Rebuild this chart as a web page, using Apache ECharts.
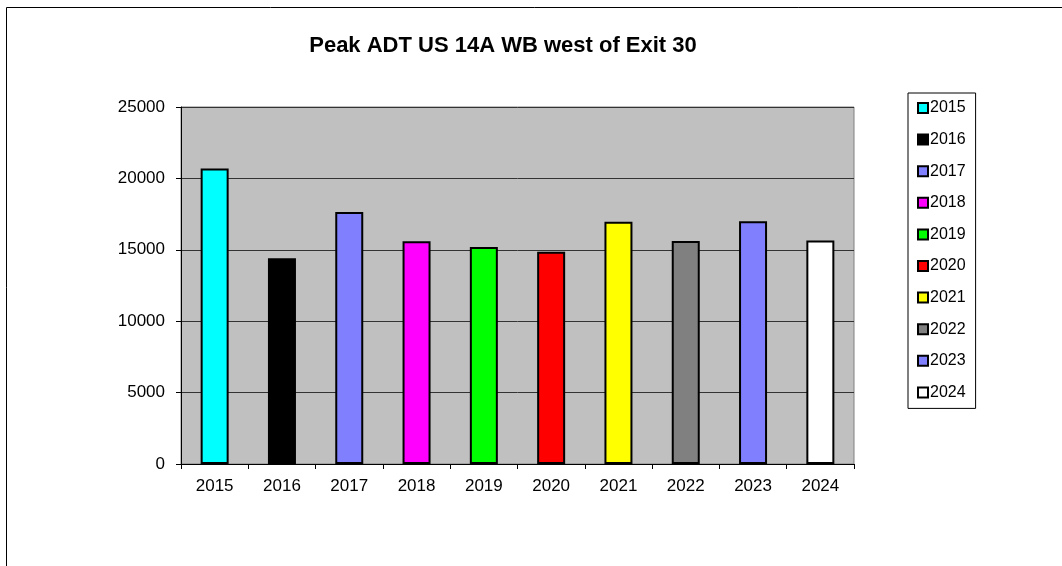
<!DOCTYPE html>
<html>
<head>
<meta charset="utf-8">
<script src="https://cdn.jsdelivr.net/npm/echarts@6/dist/echarts.min.js"></script>
<style>
html,body{margin:0;padding:0;background:#fff;}
#chart{width:1062px;height:566px;}
</style>
</head>
<body>
<div id="chart"></div>
<script>
var titleText = 'Peak ADT US 14A WB west of Exit 30';
var categories = ['2015','2016','2017','2018','2019','2020','2021','2022','2023','2024'];
var values = [20700, 14400, 17650, 15600, 15200, 14870, 16970, 15620, 17000, 15660];
var colors = ['#00ffff','#000000','#8080ff','#ff00ff','#00ff00','#ff0000','#ffff00','#808080','#8080ff','#ffffff'];
var yTicks = [0, 5000, 10000, 15000, 20000, 25000];

var FONT = '"Liberation Sans", Arial, sans-serif';

var series = categories.map(function (name, i) {
  return {
    name: name,
    type: 'bar',
    barWidth: 28,
    barGap: '-100%',
    data: [[i, values[i]]],
    itemStyle: { color: colors[i], borderColor: '#000', borderWidth: 2 },
    animation: false
  };
});

var chart = echarts.init(document.getElementById('chart'), null, { renderer: 'canvas' });
chart.setOption({
  animation: false,
  backgroundColor: '#ffffff',
  title: {
    text: titleText,
    left: 498,
    textAlign: 'center',
    top: 30,
    textStyle: { fontFamily: FONT, fontSize: 22, fontWeight: 'bold', color: '#000' }
  },
  graphic: [{
    type: 'rect',
    shape: { x: 6.5, y: 7.5, width: 1200, height: 700 },
    style: { fill: 'none', stroke: '#000', lineWidth: 1 },
    silent: true,
    z: 100
  }],
  legend: {
    orient: 'vertical',
    left: 908,
    top: 93,
    itemWidth: 10,
    itemHeight: 10,
    itemGap: 15.6,
    padding: [7, 10, 8, 9],
    borderColor: '#000',
    borderWidth: 1,
    backgroundColor: '#fff',
    icon: 'rect',
    data: categories,
    textStyle: { fontFamily: FONT, fontSize: 16, color: '#000', lineHeight: 16, padding: [0, 0, 0, -3] }
  },
  grid: {
    left: 181, top: 107, width: 673, height: 357,
    show: true,
    backgroundColor: '#c0c0c0',
    borderColor: '#808080',
    borderWidth: 1
  },
  xAxis: {
    type: 'category',
    data: categories,
    axisLine: { show: true, lineStyle: { color: '#000', width: 1 } },
    axisTick: { show: true, length: 5, lineStyle: { color: '#000' } },
    axisLabel: { fontFamily: FONT, fontSize: 17, color: '#000', margin: 14 },
    splitLine: { show: false }
  },
  yAxis: {
    type: 'value',
    min: yTicks[0],
    max: yTicks[yTicks.length - 1],
    interval: 5000,
    axisLine: { show: true, lineStyle: { color: '#000', width: 1 } },
    axisTick: { show: true, length: 5, lineStyle: { color: '#000' } },
    axisLabel: { fontFamily: FONT, fontSize: 17, color: '#000', margin: 16, formatter: function (v) { return String(v); } },
    splitLine: { show: true, lineStyle: { color: '#333', width: 1 } }
  },
  series: series
});
</script>
</body>
</html>
